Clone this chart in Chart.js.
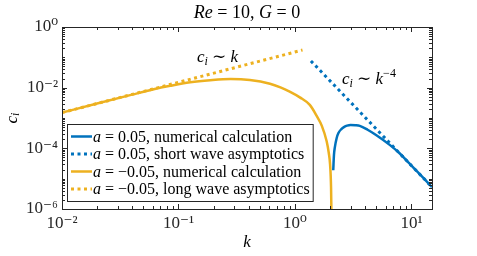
<!DOCTYPE html>
<html><head><meta charset="utf-8">
<script src="https://cdn.jsdelivr.net/npm/chart.js@4/dist/chart.umd.min.js"></script>
<style>html,body{margin:0;padding:0;background:#fff}#wrap{width:477px;height:256px;position:relative}</style>
</head><body><div id="wrap"><canvas id="c"></canvas></div>
<script>
// ---- data ----
const xTickValues = [0.01, 0.1, 1, 10];
const xTickLabels = ["10⁻²", "10⁻¹", "10⁰", "10¹"];
const yTickValues = [1e-6, 1e-4, 1e-2, 1];
const yTickLabels = ["10⁻⁶", "10⁻⁴", "10⁻²", "10⁰"];
const seriesLabels = [
  "a = 0.05, numerical calculation",
  "a = 0.05, short wave asymptotics",
  "a = −0.05, numerical calculation",
  "a = −0.05, long wave asymptotics"
];
// a = 0.05, numerical
const blueNumK = [2.13, 2.16, 2.2, 2.28, 2.36, 2.5, 2.65, 2.8, 3.0, 3.3, 3.6, 4.2, 5.0, 6.5, 7.9, 9.5, 11.06, 13, 15];
const blueNumC = [1.9e-5, 6e-5, 1.1e-4, 2.2e-4, 3.2e-4, 4.3e-4, 5.1e-4, 5.6e-4, 5.9e-4, 5.8e-4, 5.5e-4, 4.1e-4, 2.7e-4, 1.3e-4, 6.9e-5, 3.3e-5, 1.8e-5, 9.4e-6, 5.3e-6];
// a = 0.05, short wave asymptotics (c_i ~ k^-4)
const blueAsymK = [1.37, 15];
const blueAsymC = [0.076, 5.3e-6];
// a = -0.05, numerical
const yelNumK = [0.01, 0.02, 0.04, 0.06, 0.085, 0.126, 0.187, 0.28, 0.41, 0.61, 0.75, 0.9, 1.1, 1.34, 1.53, 1.7, 1.87, 1.95, 2.0, 2.04, 2.07];
const yelNumC = [1.5e-3, 3.0e-3, 5.9e-3, 8.7e-3, 0.0115, 0.0150, 0.0176, 0.0193, 0.0179, 0.0135, 0.0102, 0.0074, 0.0048, 0.0027, 1.2e-3, 5.5e-4, 1.7e-4, 7e-5, 3e-5, 5e-6, 1e-7];
// a = -0.05, long wave asymptotics (c_i ~ k)
const yelAsymK = [0.01, 1.16];
const yelAsymC = [1.5e-3, 0.174];

const BLUE = '#0072BD', YEL = '#EDB120', AX = '#262626';
const SERIF = '"Liberation Serif", "DejaVu Serif", serif';
const pts = (xs, ys) => xs.map((v, i) => ({x: v, y: ys[i]}));

function mixed(ctx, parts, x, y, size, align) {
  // parts: [text, italic, dy, scale]
  let w = 0;
  const fonts = parts.map(p => (p[1] ? 'italic ' : '') + Math.round(size * (p[3] || 1)) + 'px ' + SERIF);
  parts.forEach((p, i) => { ctx.font = fonts[i]; w += ctx.measureText(p[0]).width; });
  let cx = align === 'center' ? x - w / 2 : x;
  ctx.textAlign = 'left';
  parts.forEach((p, i) => { ctx.font = fonts[i]; ctx.fillText(p[0], cx, y + (p[2] || 0)); cx += ctx.measureText(p[0]).width; });
  return w;
}
const wide = s => s.replace(/ = /g, '\u2005=\u2005');

const decor = {
  id: 'decor',
  afterDatasetsDraw(chart) {
    const {ctx, chartArea: a, scales: {x, y}} = chart;
    ctx.save();
    ctx.strokeStyle = AX; ctx.lineWidth = 1;
    const line = (x1, y1, x2, y2) => { ctx.beginPath(); ctx.moveTo(x1, y1); ctx.lineTo(x2, y2); ctx.stroke(); };
    for (let e = -2; e <= 1; e++) for (let m = 1; m <= 9; m++) {
      const v = m * Math.pow(10, e);
      if (v < x.min * 0.999 || v > x.max) continue;
      const px = Math.round(x.getPixelForValue(v)) + 0.5;
      const L = m === 1 ? 5 : 3;
      line(px, a.bottom, px, a.bottom - L); line(px, a.top, px, a.top + L);
    }
    for (let e = -6; e <= 0; e++) for (let m = 1; m <= 9; m++) {
      const v = m * Math.pow(10, e);
      if (v < y.min * 0.999 || v > y.max * 1.001) continue;
      const py = Math.round(y.getPixelForValue(v)) + 0.5;
      const L = (m === 1 && e % 2 === 0) ? 5 : 3;
      line(a.left, py, a.left + L, py); line(a.right, py, a.right - L, py);
    }
    ctx.strokeRect(Math.round(a.left) + 0.5, Math.round(a.top) + 0.5, Math.round(a.right - a.left), Math.round(a.bottom - a.top));

    // annotations
    ctx.fillStyle = '#000'; ctx.textBaseline = 'alphabetic';
    mixed(ctx, [['c', true], ['i', true, 3, 0.7], ['\u2005∼\u2005', false], ['k', true]], x.getPixelForValue(0.144), y.getPixelForValue(0.07), 17, 'left');
    mixed(ctx, [['c', true], ['i', true, 3, 0.7], ['\u2005∼\u2005', false], ['k', true], ['−4', false, -7, 0.7]], x.getPixelForValue(2.53), y.getPixelForValue(0.0132), 17, 'left');

    // legend
    const ds = chart.data.datasets;
    const lx = 67, ly = 124, rowH = 17.5, fs = 15.5;
    let maxW = 0;
    ds.forEach(d => { const w = mixed(ctx, [[d.label[0], true], [wide(d.label.slice(1)), false]], -1000, -1000, fs, 'left'); maxW = Math.max(maxW, w); });
    const bw = 26 + maxW + 3, bh = 77;
    ctx.fillStyle = '#fff'; ctx.fillRect(lx, ly, bw, bh);
    ctx.strokeStyle = AX; ctx.lineWidth = 1; ctx.strokeRect(lx + 0.5, ly + 0.5, bw, bh);
    ds.forEach((d, i) => {
      const cy = ly + 12.5 + i * rowH;
      ctx.save();
      ctx.strokeStyle = d.borderColor; ctx.lineWidth = d.borderWidth;
      ctx.setLineDash(d.borderDash || []);
      ctx.beginPath(); ctx.moveTo(lx + 4, cy); ctx.lineTo(lx + 25, cy); ctx.stroke();
      ctx.restore();
      ctx.fillStyle = '#000'; ctx.textBaseline = 'middle';
      mixed(ctx, [[d.label[0], true], [wide(d.label.slice(1)), false]], lx + 26, cy + 1, fs, 'left');
    });

    // titles
    ctx.fillStyle = '#000'; ctx.textBaseline = 'middle';
    const cxm = (a.left + a.right) / 2;
    mixed(ctx, [['Re', true], ['\u2005=\u2005' + '10,\u2005', false], ['G', true], ['\u2005=\u20050', false]], cxm, 13, 18, 'center');
    mixed(ctx, [['k', true]], cxm, 243, 17, 'center');
    ctx.save();
    ctx.translate(13, (a.top + a.bottom) / 2);
    ctx.rotate(-Math.PI / 2);
    mixed(ctx, [['c', true], ['i', true, 3, 0.7]], 0, 0, 17, 'center');
    ctx.restore();
    ctx.restore();
  }
};

new Chart(document.getElementById('c'), {
  type: 'line',
  data: {
    datasets: [
      {label: seriesLabels[0], data: pts(blueNumK, blueNumC), borderColor: BLUE, borderWidth: 2.5, cubicInterpolationMode: 'monotone', order: 1},
      {label: seriesLabels[1], data: pts(blueAsymK, blueAsymC), borderColor: BLUE, borderWidth: 3, borderDash: [3, 3.5], order: 2},
      {label: seriesLabels[2], data: pts(yelNumK, yelNumC), borderColor: YEL, borderWidth: 2.5, cubicInterpolationMode: 'monotone', order: 3},
      {label: seriesLabels[3], data: pts(yelAsymK, yelAsymC), borderColor: YEL, borderWidth: 3, borderDash: [3, 3.5], order: 0}
    ]
  },
  options: {
    responsive: true, maintainAspectRatio: false, animation: false,
    devicePixelRatio: 1,
    elements: {point: {radius: 0}, line: {borderCapStyle: 'butt'}},
    layout: {padding: {top: 27, right: 45, left: 0, bottom: 0}},
    plugins: {legend: {display: false}, tooltip: {enabled: false}, title: {display: false}},
    scales: {
      x: {
        type: 'logarithmic', min: 0.01, max: 15,
        grid: {display: false, drawTicks: false}, border: {display: false},
        afterBuildTicks: s => { s.ticks = xTickValues.map(v => ({value: v})); },
        afterFit: s => { s.height = 47; },
        ticks: {autoSkip: false, maxRotation: 0, padding: 4, color: '#262626',
          font: {family: SERIF, size: 17},
          callback: v => { const i = xTickValues.indexOf(v); return i >= 0 ? xTickLabels[i] : ''; }}
      },
      y: {
        type: 'logarithmic', min: 1e-6, max: 1,
        grid: {display: false, drawTicks: false}, border: {display: false},
        afterBuildTicks: s => { s.ticks = yTickValues.map(v => ({value: v})); },
        afterFit: s => { s.width = 62; },
        ticks: {autoSkip: false, padding: 4, color: '#262626',
          font: {family: SERIF, size: 17},
          callback: v => { const i = yTickValues.indexOf(v); return i >= 0 ? yTickLabels[i] : ''; }}
      }
    }
  },
  plugins: [decor]
});
</script></body></html>
